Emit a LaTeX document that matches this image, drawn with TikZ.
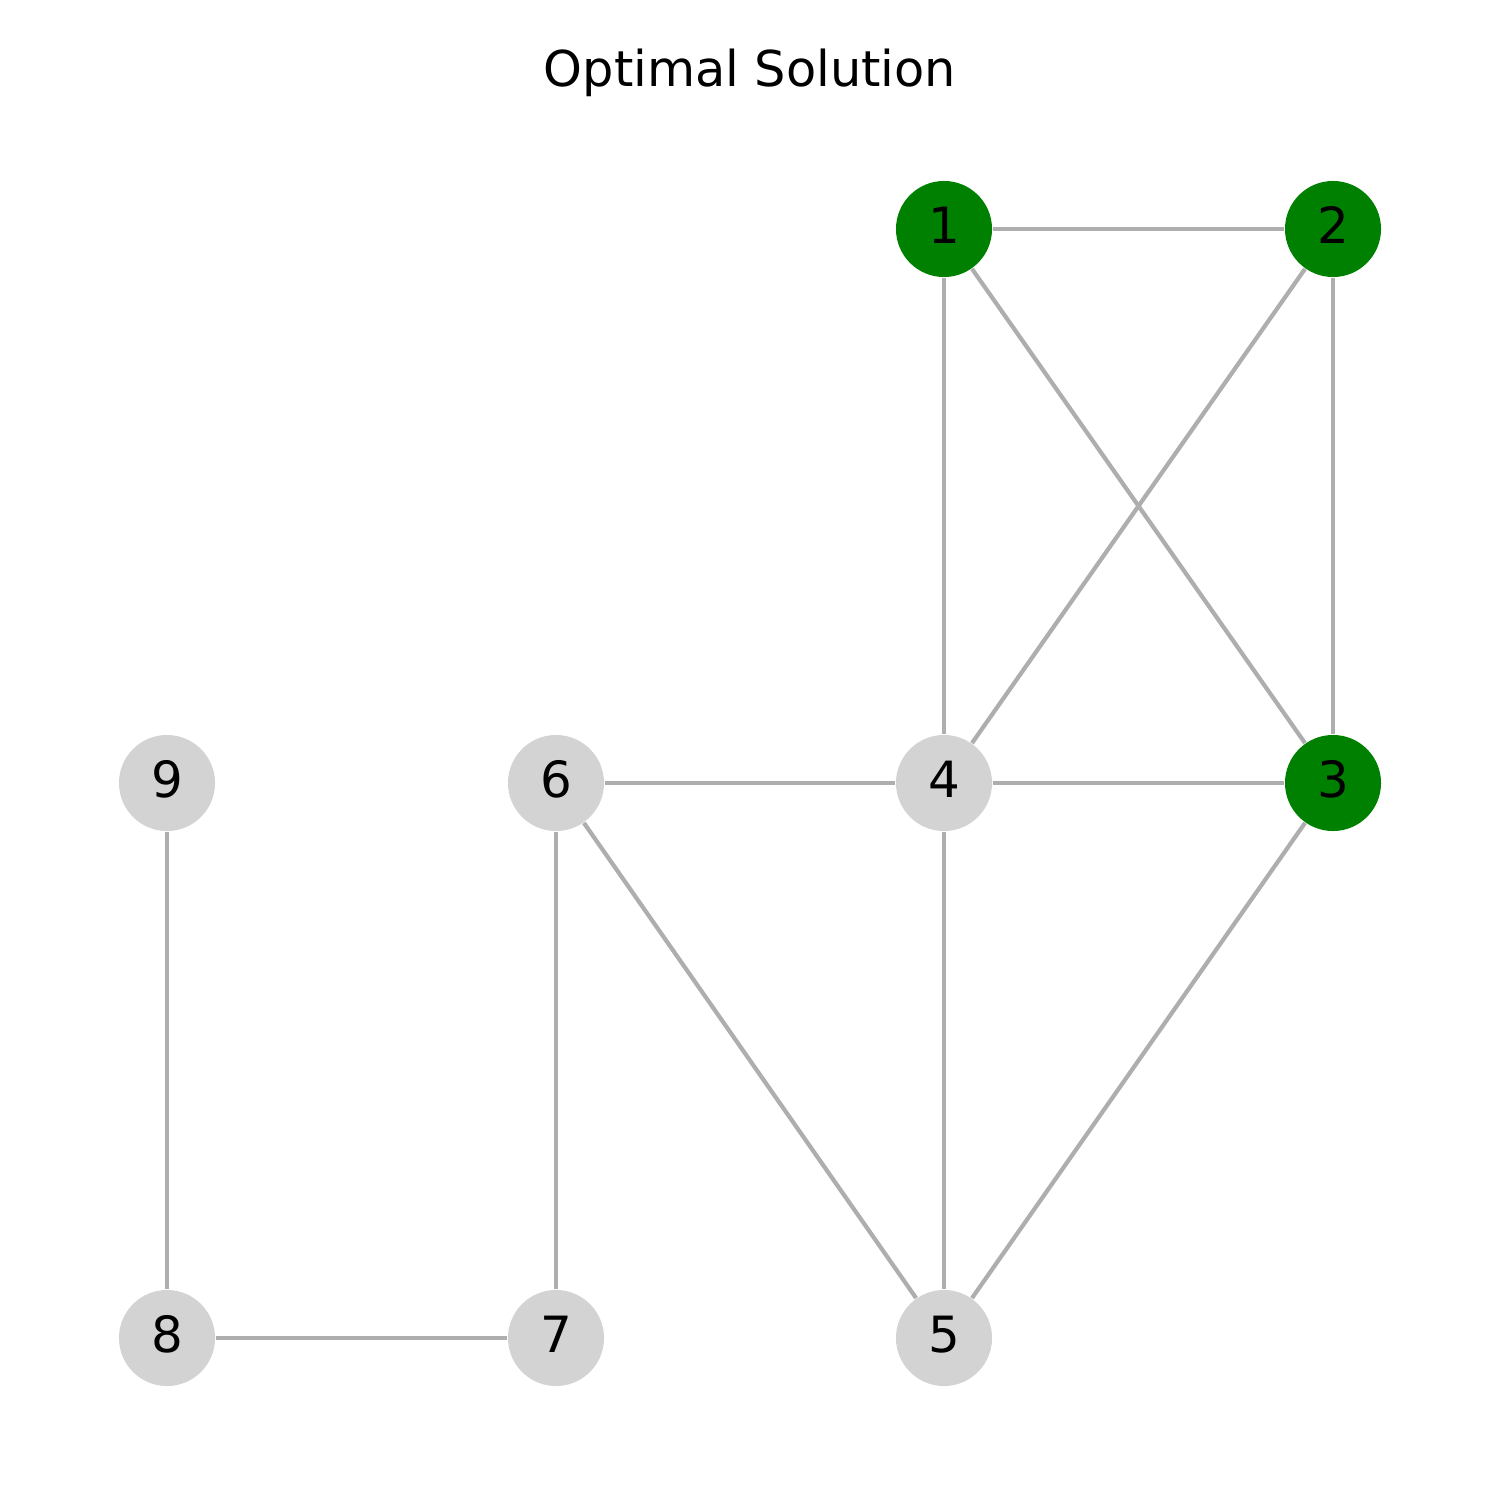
\documentclass[tikz,border=0pt]{standalone}
\usepackage{fontspec}
\setmainfont{DejaVu Sans}
\definecolor{grn}{HTML}{008000}
\definecolor{lgray}{HTML}{D3D3D3}
\definecolor{edgec}{HTML}{AEAEAE}
\begin{document}
\begin{tikzpicture}[x=0.01cm,y=-0.01cm,
  vert/.style={circle,minimum size=0.96cm,inner sep=0pt,text height=0.36cm,text depth=0.08cm,font=\fontsize{14.2pt}{16pt}\selectfont},
  sel/.style={vert,fill=grn},
  uns/.style={vert,fill=lgray},
  edge/.style={draw=edgec,line width=1.2pt}]
\useasboundingbox (0,0) rectangle (1500,1500);
\node[font=\fontsize{14.05pt}{17pt}\selectfont] (title) at (750,73) {Optimal Solution};
\node[sel] (n1) at (944,229) {1};
\node[sel] (n2) at (1333,229) {2};
\node[sel] (n3) at (1333,783) {3};
\node[uns] (n4) at (944,783) {4};
\node[uns] (n5) at (944,1338) {5};
\node[uns] (n6) at (556,783) {6};
\node[uns] (n7) at (556,1338) {7};
\node[uns] (n8) at (167,1338) {8};
\node[uns] (n9) at (167,783) {9};
\path[edge] (n1) -- (n2);
\path[edge] (n1) -- (n4);
\path[edge] (n1) -- (n3);
\path[edge] (n2) -- (n4);
\path[edge] (n2) -- (n3);
\path[edge] (n4) -- (n3);
\path[edge] (n6) -- (n4);
\path[edge] (n4) -- (n5);
\path[edge] (n6) -- (n5);
\path[edge] (n3) -- (n5);
\path[edge] (n6) -- (n7);
\path[edge] (n9) -- (n8);
\path[edge] (n8) -- (n7);
\end{tikzpicture}
\end{document}
